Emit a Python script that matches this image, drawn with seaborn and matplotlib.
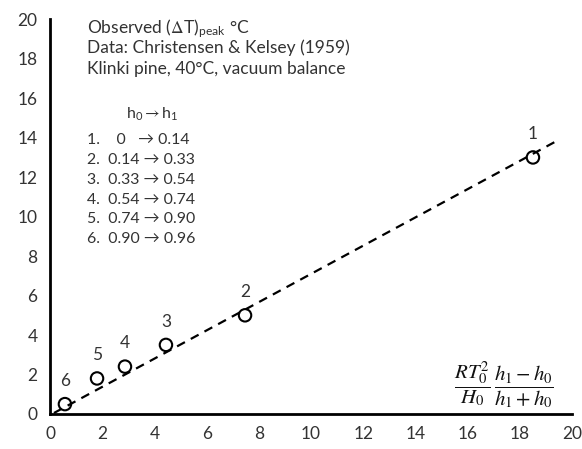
import matplotlib
matplotlib.use("Agg")
import matplotlib.pyplot as plt
import seaborn as sns
import pandas as pd

# Data
labels = ["1", "2", "3", "4", "5", "6"]
x_calc = [18.5, 7.47, 4.44, 2.87, 1.80, 0.57]
y_obs = [13.0, 5.0, 3.5, 2.4, 1.8, 0.5]
fit_x = [0.15, 19.5]
fit_y = [0.05, 13.9]
ranges = ["1.    0   \u2192 0.14", "2.  0.14 \u2192 0.33", "3.  0.33 \u2192 0.54",
          "4.  0.54 \u2192 0.74", "5.  0.74 \u2192 0.90", "6.  0.90 \u2192 0.96"]

sns.set_style("white")
plt.rcParams["font.family"] = ["Lato", "DejaVu Sans"]
plt.rcParams["mathtext.fontset"] = "stix"

txt = "#333333"
df = pd.DataFrame({"x": x_calc, "y": y_obs, "label": labels})

fig, ax = plt.subplots(figsize=(5.82, 4.49), dpi=100)

sns.lineplot(x=fit_x, y=fit_y, ax=ax, color="black", linestyle=(0, (4, 3)), linewidth=1.6)
sns.scatterplot(data=df, x="x", y="y", ax=ax, marker="o", s=80,
                facecolor="none", edgecolor="black", linewidth=1.5, zorder=3)

for _, r in df.iterrows():
    ax.annotate(r["label"], (r["x"], r["y"]), xytext=(0, 11), textcoords="offset points",
                ha="center", va="bottom", fontsize=12.5, color=txt)

ax.set_xlim(0, 20)
ax.set_ylim(0, 20)
ax.set_xticks(range(0, 21, 2))
ax.set_yticks(range(0, 21, 2))
ax.tick_params(length=0, labelsize=12.5, pad=9, labelcolor=txt)
ax.set_xlabel("")
ax.set_ylabel("")
sns.despine(ax=ax)
for s in ["left", "bottom"]:
    ax.spines[s].set_color("black")
    ax.spines[s].set_linewidth(2)

ax.text(1.4, 20.1, r"Observed ($\Delta$T)$_{\mathregular{peak}}$ °C", fontsize=12.5, va="top", color=txt)
ax.text(1.4, 19.0, "Data: Christensen & Kelsey (1959)", fontsize=12.5, va="top", color=txt)
ax.text(1.4, 17.9, "Klinki pine, 40°C, vacuum balance", fontsize=12.5, va="top", color=txt)
ax.text(2.9, 15.6, r"h$_\mathregular{0}$$\rightarrow$h$_\mathregular{1}$", fontsize=11.5, va="top", color=txt)
for i, t in enumerate(ranges):
    ax.text(1.4, 14.25 - i * 1.01, t, fontsize=11.4, va="top", color=txt)

ax.text(17.4, 1.45, r"$\dfrac{RT_0^2}{H_0}\,\dfrac{h_1 - h_0}{h_1 + h_0}$", fontsize=15,
        ha="center", va="center", color="#111111")

plt.subplots_adjust(left=0.086, right=0.983, bottom=0.078, top=0.957)
plt.savefig("out.png", dpi=100)
